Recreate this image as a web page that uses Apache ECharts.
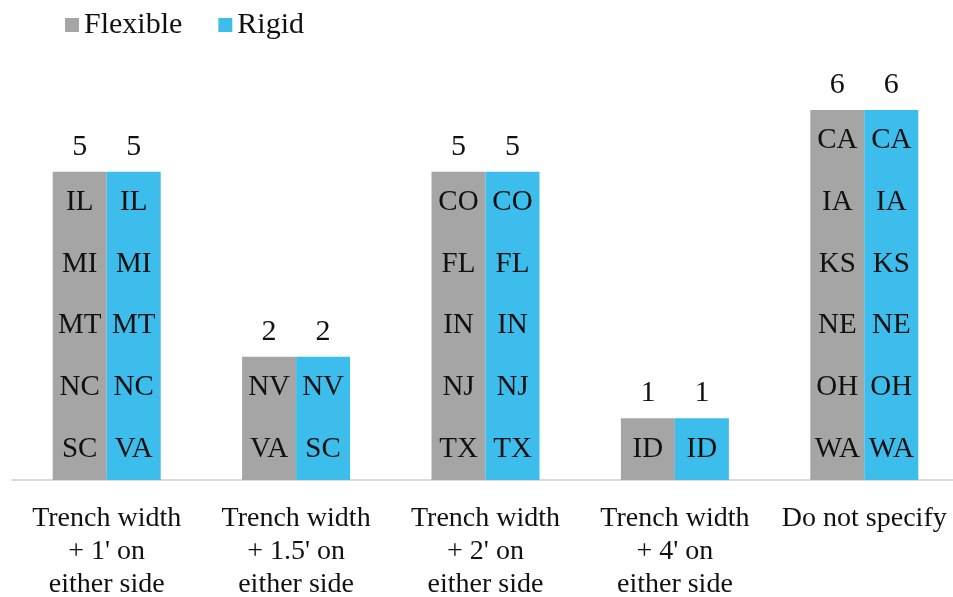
<!DOCTYPE html>
<html>
<head>
<meta charset="utf-8">
<script src="https://cdn.jsdelivr.net/npm/echarts@6/dist/echarts.min.js"></script>
<style>
  html, body { margin: 0; padding: 0; background: #fff; }
  #charts { width: 953px; height: 597px; }
</style>
</head>
<body>
<div id="charts"></div>
<script>
// categories and the states in each bar, listed top to bottom
var categories = [
    "Trench width\n+ 1' on\neither side",
    "Trench width\n+ 1.5' on\neither side",
    "Trench width\n+ 2' on\neither side",
    "Trench width\n+ 4' on\neither side",
    "Do not specify"
];
var flexibleStates = [
    ['IL', 'MI', 'MT', 'NC', 'SC'],
    ['NV', 'VA'],
    ['CO', 'FL', 'IN', 'NJ', 'TX'],
    ['ID'],
    ['CA', 'IA', 'KS', 'NE', 'OH', 'WA']
];
var rigidStates = [
    ['IL', 'MI', 'MT', 'NC', 'VA'],
    ['NV', 'SC'],
    ['CO', 'FL', 'IN', 'NJ', 'TX'],
    ['ID'],
    ['CA', 'IA', 'KS', 'NE', 'OH', 'WA']
];
var flexibleCounts = [5, 2, 5, 1, 6];
var rigidCounts = [5, 2, 5, 1, 6];

var FONT = "'Liberation Serif', 'Times New Roman', serif";
var GRAY = '#a5a5a5';
var BLUE = '#3dbdec';
var INK = '#111';
var GRID_TOP = 110, GRID_BOTTOM = 117, Y_MAX = 6;
// one state per unit of height
var UNIT = (597 - GRID_TOP - GRID_BOTTOM) / Y_MAX;

function buildSeries(name, stack, color, states, counts) {
    return [{
        name: name,
        type: 'bar',
        stack: stack,
        barWidth: 54,
        barGap: 0,
        itemStyle: { color: color },
        data: counts,
        label: {
            show: true,
            position: 'inside',
            fontFamily: FONT,
            fontSize: 29,
            lineHeight: UNIT,
            color: INK,
            formatter: function (p) { return states[p.dataIndex].join('\n'); }
        }
    }, {
        // total shown above the bar
        name: name + ' total',
        type: 'bar',
        stack: stack,
        barWidth: 54,
        barGap: 0,
        itemStyle: { color: 'transparent' },
        data: counts.map(function () { return 0; }),
        label: {
            show: true,
            position: 'top',
            distance: 10,
            fontFamily: FONT,
            fontSize: 30,
            color: INK,
            formatter: function (p) { return counts[p.dataIndex]; }
        }
    }];
}

var myChart = echarts.init(document.getElementById('charts'));
var option = {
    animation: false,
    legend: {
        data: ['Flexible', 'Rigid'],
        left: 60,
        top: 5,
        icon: 'rect',
        itemWidth: 14,
        itemHeight: 14,
        itemGap: 36,
        itemStyle: { borderWidth: 0 },
        textStyle: { fontFamily: FONT, fontSize: 30, color: INK }
    },
    grid: { left: 12, right: -6, top: GRID_TOP, bottom: GRID_BOTTOM, outerBoundsMode: 'none', containLabel: false },
    xAxis: {
        type: 'category',
        data: categories,
        axisLine: { lineStyle: { color: '#d6ccc4', width: 1.5 } },
        axisTick: { show: false },
        axisLabel: {
            fontFamily: FONT,
            fontSize: 28,
            lineHeight: 33,
            color: INK,
            margin: 22,
            interval: 0
        }
    },
    yAxis: { type: 'value', min: 0, max: Y_MAX, show: false, splitLine: { show: false } },
    series: buildSeries('Flexible', 'flex', GRAY, flexibleStates, flexibleCounts)
        .concat(buildSeries('Rigid', 'rigid', BLUE, rigidStates, rigidCounts))
};

myChart.setOption(option);
</script>
</body>
</html>
